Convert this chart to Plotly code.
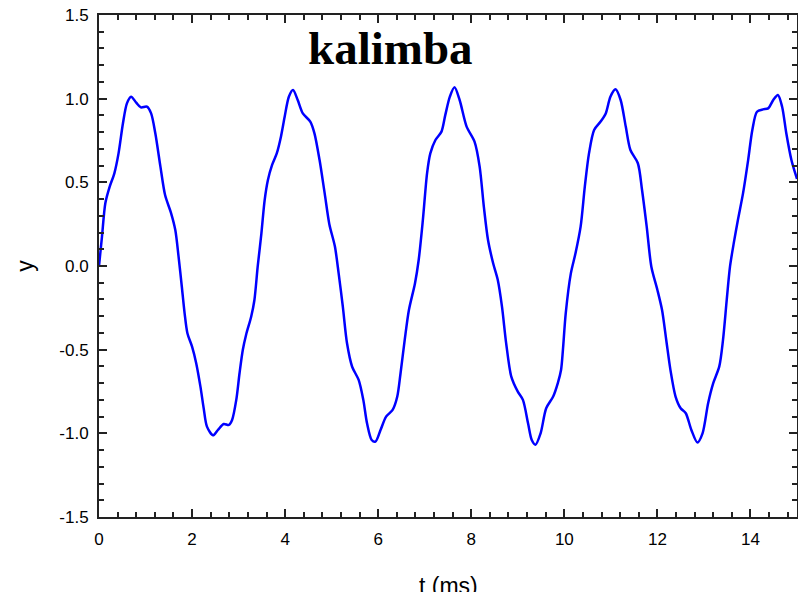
import plotly.graph_objects as go

t_ms = [0.0, 0.064, 0.136, 0.23, 0.33, 0.42, 0.515, 0.60, 0.69, 0.80, 0.90, 1.03, 1.12, 1.21, 1.32,
        1.42, 1.55, 1.64, 1.71, 1.78, 1.84, 1.90, 2.00, 2.09, 2.18, 2.25, 2.32, 2.45, 2.555, 2.68,
        2.79, 2.86, 2.95, 3.02, 3.09, 3.16, 3.27, 3.34, 3.41, 3.49, 3.56, 3.63, 3.72, 3.82, 3.91,
        3.99, 4.08, 4.17, 4.27, 4.38, 4.54, 4.63, 4.74, 4.85, 4.95, 5.07, 5.15, 5.24, 5.33, 5.44,
        5.58, 5.68, 5.76, 5.86, 5.94, 6.05, 6.17, 6.31, 6.41, 6.48, 6.57, 6.66, 6.79, 6.87, 6.96,
        7.05, 7.12, 7.23, 7.36, 7.44, 7.54, 7.64, 7.75, 7.90, 8.07, 8.18, 8.27, 8.36, 8.47, 8.57,
        8.66, 8.75, 8.86, 9.00, 9.11, 9.22, 9.30, 9.38, 9.49, 9.61, 9.76, 9.86, 9.93, 9.97, 10.03,
        10.14, 10.24, 10.35, 10.44, 10.53, 10.64, 10.78, 10.89, 10.99, 11.10, 11.21, 11.32, 11.42,
        11.58, 11.67, 11.77, 11.87, 12.00, 12.10, 12.19, 12.28, 12.39, 12.50, 12.61, 12.73, 12.86,
        12.97, 13.09, 13.20, 13.33, 13.41, 13.49, 13.56, 13.64, 13.73, 13.84, 13.95, 14.04, 14.14,
        14.27, 14.38, 14.49, 14.59, 14.68, 14.77, 14.88, 15.0]

y_vals = [0.0, 0.175, 0.375, 0.474, 0.554, 0.673, 0.853, 0.972, 1.012, 0.976, 0.948, 0.952, 0.912,
          0.793, 0.594, 0.424, 0.315, 0.215, 0.056, -0.124, -0.283, -0.402, -0.482, -0.582, -0.721,
          -0.851, -0.960, -1.012, -0.98, -0.944, -0.95, -0.92, -0.80, -0.641, -0.502, -0.412, -0.303,
          -0.203, -0.004, 0.195, 0.394, 0.514, 0.604, 0.673, 0.773, 0.892, 1.012, 1.052, 0.992, 0.912,
          0.863, 0.793, 0.633, 0.434, 0.25, 0.116, -0.044, -0.243, -0.462, -0.602, -0.681, -0.80,
          -0.94, -1.04, -1.05, -0.98, -0.90, -0.86, -0.78, -0.641, -0.442, -0.263, -0.104, 0.036,
          0.275, 0.554, 0.673, 0.753, 0.803, 0.90, 1.012, 1.068, 0.992, 0.833, 0.743, 0.594, 0.355,
          0.155, 0.016, -0.084, -0.243, -0.462, -0.661, -0.751, -0.80, -0.94, -1.04, -1.068, -1.0,
          -0.85, -0.78, -0.70, -0.62, -0.50, -0.283, -0.044, 0.076, 0.235, 0.474, 0.673, 0.813, 0.863,
          0.912, 1.012, 1.056, 0.992, 0.833, 0.693, 0.614, 0.454, 0.235, -0.004, -0.143, -0.263,
          -0.442, -0.621, -0.78, -0.85, -0.88, -0.98, -1.055, -1.0, -0.82, -0.70, -0.60, -0.442,
          -0.203, -0.004, 0.135, 0.275, 0.434, 0.633, 0.813, 0.922, 0.936, 0.942, 0.992, 1.022, 0.952,
          0.793, 0.633, 0.52]

x_ticks = [0, 2, 4, 6, 8, 10, 12, 14]
y_ticks = [-1.5, -1.0, -0.5, 0.0, 0.5, 1.0, 1.5]
y_tick_text = ["-1.5", "-1.0", "-0.5", "0.0", "0.5", "1.0", "1.5"]

fig = go.Figure()
fig.add_trace(go.Scatter(x=t_ms, y=y_vals, mode="lines",
                         line=dict(color="#0000ff", width=2.5, shape="spline", smoothing=0.8),
                         showlegend=False))

axis_common = dict(showline=True, linecolor="#222222", linewidth=2, mirror="ticks",
                   ticks="inside", tickcolor="#222222", ticklen=8, tickwidth=1.5,
                   showgrid=False, zeroline=False, automargin=False, ticklabeloverflow="allow",
                   tickfont=dict(family="Liberation Sans, Arial", size=17, color="black"))

fig.update_layout(
    width=798, height=592,
    margin=dict(l=99, r=1, t=15, b=75),
    paper_bgcolor="white", plot_bgcolor="white",
    xaxis=dict(range=[0, 15], tickvals=x_ticks, ticklabelstandoff=6,
               minor=dict(dtick=0.4, tick0=0, ticks="inside", ticklen=5, tickcolor="#222222", tickwidth=1.5),
               **axis_common),
    yaxis=dict(range=[-1.5, 1.5], tickvals=y_ticks, ticktext=y_tick_text, ticklabelstandoff=5,
               minor=dict(dtick=0.1, tick0=0, ticks="inside", ticklen=5, tickcolor="#222222", tickwidth=1.5),
               title=dict(text="y", font=dict(family="Liberation Sans, Arial", size=23, color="black"),
                          standoff=19),
               **axis_common),
    annotations=[
        dict(text="<b>kalimba</b>", x=0.417, y=0.935, xref="paper", yref="paper",
             xanchor="center", yanchor="middle", showarrow=False,
             font=dict(family="Liberation Serif, Times New Roman", size=47, color="black")),
        dict(text="t (ms)", x=0.5, y=-0.137, xref="paper", yref="paper",
             xanchor="center", yanchor="middle", showarrow=False,
             font=dict(family="Liberation Sans, Arial", size=23, color="black")),
    ],
)

fig.write_html("out.html", config={"displayModeBar": False},
               post_script="document.body.style.margin='0';document.body.style.overflow='hidden';")
